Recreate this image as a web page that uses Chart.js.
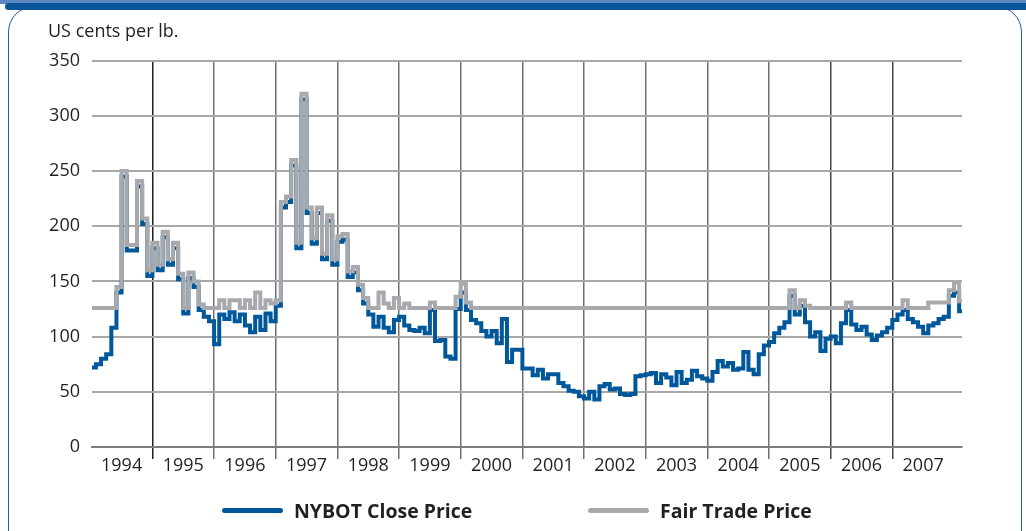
<!DOCTYPE html>
<html>
<head>
<meta charset="utf-8">
<title>NYBOT and Fair Trade coffee prices</title>
<script src="https://cdn.jsdelivr.net/npm/chart.js@4.4.1/dist/chart.umd.min.js"></script>
<style>
  body { margin: 0; background: #fff; font-family: "Open Sans", sans-serif; color: #231f20; }
  #page { position: relative; width: 1026px; height: 531px; overflow: hidden; background: #fff; }
  .top-band { position: absolute; left: 0; top: 0; width: 1026px; height: 4px; background: #5b86c0; }
  .card { position: absolute; left: 8px; top: 6px; width: 1014px; height: 600px; border: 1.5px solid #1f5fa6; border-radius: 26px; box-sizing: border-box; }
  .top-bar { position: absolute; left: 5px; top: 3px; width: 1021px; height: 7px; background: #0a5597; border-radius: 4px 0 0 4px; }
  #chart { position: absolute; left: 0; top: 0; }
  .legend-item { position: absolute; top: 498px; height: 24px; display: flex; align-items: center; font-weight: 700; font-size: 19.5px; white-space: nowrap; }
  .legend-line { width: 61px; height: 5px; border-radius: 3px; margin-right: 11px; }
</style>
</head>
<body>
<div id="page">
  <div class="top-band"></div>
  <div class="card"></div>
  <div class="top-bar"></div>
  <canvas id="chart" width="1026" height="531"></canvas>
</div>
<script>
const START_YEAR = 1994;
const yearLabels = ['1994', '1995', '1996', '1997', '1998', '1999', '2000',
                    '2001', '2002', '2003', '2004', '2005', '2006', '2007'];
const yTicks = [0, 50, 100, 150, 200, 250, 300, 350];

// monthly values, Jan 1994 .. Mar 2008, US cents per lb.
const nybotClose = [
  72, 75, 80, 84, 108, 140, 245, 178, 178, 236, 202, 155,      // 1994
  180, 160, 190, 165, 180, 152, 121, 153, 145, 124, 118, 114,  // 1995
  93, 120, 116, 122, 114, 120, 110, 104, 118, 106, 121, 114,   // 1996
  128, 217, 222, 255, 180, 315, 212, 184, 212, 170, 205, 165,  // 1997
  186, 188, 154, 158, 142, 130, 120, 109, 118, 108, 104, 115,  // 1998
  118, 110, 106, 105, 108, 103, 124, 96, 97, 82, 80, 125,      // 1999
  140, 124, 115, 112, 105, 100, 105, 94, 116, 77, 88, 88,      // 2000
  71, 71, 65, 70, 62, 66, 66, 58, 55, 51, 50, 46,              // 2001
  44, 50, 43, 55, 57, 52, 53, 48, 47, 48, 64, 65,              // 2002
  66, 67, 58, 66, 63, 56, 68, 58, 61, 69, 64, 62,              // 2003
  60, 68, 78, 73, 76, 70, 71, 86, 70, 66, 84, 92,              // 2004
  95, 103, 108, 113, 137, 120, 128, 113, 100, 104, 87, 98,     // 2005
  100, 94, 112, 124, 111, 106, 109, 102, 97, 101, 104, 108,    // 2006
  115, 120, 124, 116, 113, 109, 103, 110, 112, 116, 118, 137,  // 2007
  140, 123, 123                                                // 2008
];

const fairTrade = [
  126, 126, 126, 126, 126, 145, 250, 183, 183, 241, 207, 160,  // 1994
  185, 165, 195, 170, 185, 157, 126, 158, 150, 129, 126, 126,  // 1995
  126, 133, 126, 133, 133, 126, 133, 126, 140, 126, 133, 130,  // 1996
  133, 222, 227, 260, 185, 320, 217, 189, 217, 175, 210, 170,  // 1997
  191, 193, 159, 163, 147, 135, 126, 126, 140, 130, 126, 135,  // 1998
  126, 130, 126, 126, 126, 126, 131, 126, 126, 126, 126, 136,  // 1999
  148, 131, 126, 126, 126, 126, 126, 126, 126, 126, 126, 126,  // 2000
  126, 126, 126, 126, 126, 126, 126, 126, 126, 126, 126, 126,  // 2001
  126, 126, 126, 126, 126, 126, 126, 126, 126, 126, 126, 126,  // 2002
  126, 126, 126, 126, 126, 126, 126, 126, 126, 126, 126, 126,  // 2003
  126, 126, 126, 126, 126, 126, 126, 126, 126, 126, 126, 126,  // 2004
  126, 126, 126, 126, 142, 126, 133, 128, 126, 126, 126, 126,  // 2005
  126, 126, 126, 131, 126, 126, 126, 126, 126, 126, 126, 126,  // 2006
  126, 126, 133, 126, 126, 126, 126, 131, 131, 131, 131, 142,  // 2007
  149, 132, 132                                                // 2008
];

const BLUE = '#00589b';
const GREY = '#a7a9ac';
const TEXT = '#231f20';

Chart.defaults.font.family = '"Open Sans", sans-serif';
Chart.defaults.color = TEXT;

function toPoints(values) {
    return values.map((v, i) => ({ x: START_YEAR + i / 12, y: v }));
}

function yearLineColor(context) {
    const i = context.index;
    if (i === undefined || i === 0) return 'rgba(0,0,0,0)';
    if (i === 1) return '#1e1e1e';
    if (i >= 12) return '#454545';
    return '#707070';
}

const ctx = document.getElementById('chart').getContext('2d');
const priceChart = new Chart(ctx, {
    type: 'line',
    data: {
        datasets: [{
            label: 'NYBOT Close Price',
            data: toPoints(nybotClose),
            borderColor: BLUE,
            backgroundColor: BLUE,
            borderWidth: 4,
            stepped: true,
            pointRadius: 0,
            order: 1,
        }, {
            label: 'Fair Trade Price',
            data: toPoints(fairTrade),
            borderColor: GREY,
            backgroundColor: GREY,
            borderWidth: 4,
            stepped: true,
            pointRadius: 0,
            order: 0,
        }],
    },
    options: {
        responsive: false,
        animation: false,
        devicePixelRatio: 1,
        layout: { padding: { left: 48, right: 64, top: 0, bottom: 44 } },
        plugins: {
            legend: { display: false },
            tooltip: { enabled: false },
            title: {
                display: true,
                text: 'US cents per lb.',
                align: 'start',
                color: TEXT,
                font: { size: 18, weight: 'normal' },
                padding: { top: 21, bottom: 18 },
            },
        },
        scales: {
            x: {
                type: 'linear',
                min: 1994.02,
                max: 2008.13,
                afterBuildTicks: (scale) => {
                    scale.ticks = yearLabels.map(y => ({ value: Number(y) + 0.5 }));
                },
                afterFit: (scale) => { scale.height = 40; },
                ticks: {
                    autoSkip: false,
                    maxRotation: 0,
                    padding: -4,
                    color: TEXT,
                    font: { size: 18 },
                    callback: (value, index) => yearLabels[index],
                },
                grid: {
                    offset: true,
                    color: yearLineColor,
                    lineWidth: 1.5,
                    tickLength: 12,
                },
                border: { display: true, color: '#7d7d7d', width: 2 },
            },
            y: {
                min: yTicks[0],
                max: yTicks[yTicks.length - 1],
                afterFit: (scale) => { scale.width = 44; },
                ticks: {
                    stepSize: yTicks[1] - yTicks[0],
                    padding: 12,
                    color: TEXT,
                    font: { size: 18 },
                },
                grid: {
                    drawTicks: false,
                    lineWidth: 2,
                    color: (c) => (c.tick && c.tick.value === 0 ? '#7d7d7d' : '#a8a8a8'),
                },
                border: { display: false },
            },
        },
    },
});

// legend under the chart, built from the datasets
const legendLefts = [222, 588];
priceChart.data.datasets.forEach((ds, i) => {
    const item = document.createElement('div');
    item.className = 'legend-item';
    item.style.left = legendLefts[i] + 'px';
    const line = document.createElement('span');
    line.className = 'legend-line';
    line.style.background = ds.borderColor;
    const label = document.createElement('span');
    label.textContent = ds.label;
    item.appendChild(line);
    item.appendChild(label);
    document.getElementById('page').appendChild(item);
});
</script>
</body>
</html>
